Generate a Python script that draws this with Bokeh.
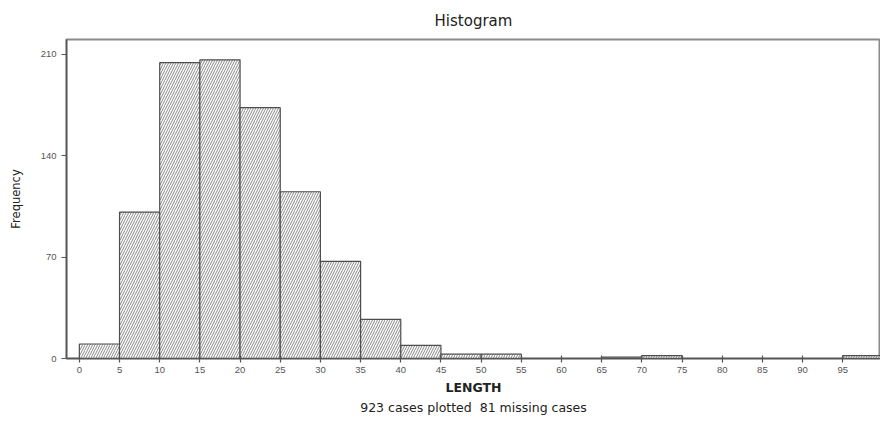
from bokeh.plotting import figure
from bokeh.models import ColumnDataSource, Range1d, FixedTicker, Title
from bokeh.embed import file_html
from bokeh.resources import INLINE

# Data
bin_left = [0, 5, 10, 15, 20, 25, 30, 35, 40, 45, 50, 55, 60, 65, 70, 75, 80, 85, 90, 95]
bin_right = [5, 10, 15, 20, 25, 30, 35, 40, 45, 50, 55, 60, 65, 70, 75, 80, 85, 90, 95, 100]
frequency = [10, 101, 204, 206, 173, 115, 67, 27, 9, 3, 3, 0, 0, 1, 2, 0, 0, 0, 0, 2]
x_ticks = list(range(0, 101, 5))
y_ticks = [0, 70, 140, 210]
title_text = "Histogram"
x_label = "LENGTH"
y_label = "Frequency"
note_text = "923 cases plotted\u00a0\u00a081 missing cases"

keep = [i for i, f in enumerate(frequency) if f > 0]
src = ColumnDataSource(dict(
    left=[bin_left[i] for i in keep],
    right=[bin_right[i] for i in keep],
    top=[frequency[i] for i in keep],
    bottom=[0 for i in keep],
))

FONT = "DejaVu Sans"
TICKFONT = "Liberation Sans"

p = figure(width=880, height=417, output_backend="svg", toolbar_location=None,
           x_range=Range1d(-1.6, 99.7), y_range=Range1d(0, 220),
           min_border_left=66, min_border_right=0, min_border_top=39, min_border_bottom=59)

p.quad(left="left", right="right", top="top", bottom="bottom", source=src,
       fill_color="white", line_color="#4d4d4d", line_width=1.2,
       hatch_pattern="/", hatch_color="#7a7a7a", hatch_scale=5, hatch_weight=0.9)

p.title.text = title_text
p.title.align = "center"
p.title.vertical_align = "top"
p.title.text_font = FONT
p.title.text_font_style = "normal"
p.title.text_font_size = "15px"
p.title.text_color = "#222222"
p.title.standoff = 16

p.xgrid.visible = False
p.ygrid.visible = False
p.outline_line_color = "#8a8a8a"
p.outline_line_width = 2

p.xaxis.ticker = FixedTicker(ticks=x_ticks)
p.yaxis.ticker = FixedTicker(ticks=y_ticks)
p.xaxis.minor_tick_line_color = None
p.yaxis.minor_tick_line_color = None

for ax in (p.xaxis[0], p.yaxis[0]):
    ax.axis_line_color = "#555555"
    ax.axis_line_width = 1.5
    ax.major_tick_line_color = "#555555"
    ax.major_tick_line_width = 1.2
    ax.major_label_text_font = TICKFONT
    ax.major_label_text_font_size = "9.5px"
    ax.major_label_text_color = "#555555"
    ax.axis_label_text_font = FONT
    ax.axis_label_text_color = "#222222"

p.xaxis.major_tick_in = 3
p.xaxis.major_tick_out = 4
p.xaxis.major_label_standoff = 4
p.yaxis.major_tick_in = 0
p.yaxis.major_tick_out = 5
p.yaxis.major_label_standoff = 5

p.xaxis.axis_label = x_label
p.xaxis.axis_label_text_font_style = "bold"
p.xaxis.axis_label_text_font_size = "12.5px"
p.xaxis.axis_label_standoff = 4

p.yaxis.axis_label = y_label
p.yaxis.axis_label_text_font_style = "normal"
p.yaxis.axis_label_text_font_size = "11.5px"
p.yaxis.axis_label_standoff = 15

note = Title(text=note_text, align="center", text_font=FONT, text_font_size="12.5px",
             text_font_style="normal", text_color="#222222", standoff=0)
p.add_layout(note, "below")

open("out.html", "w").write(file_html(p, INLINE))
